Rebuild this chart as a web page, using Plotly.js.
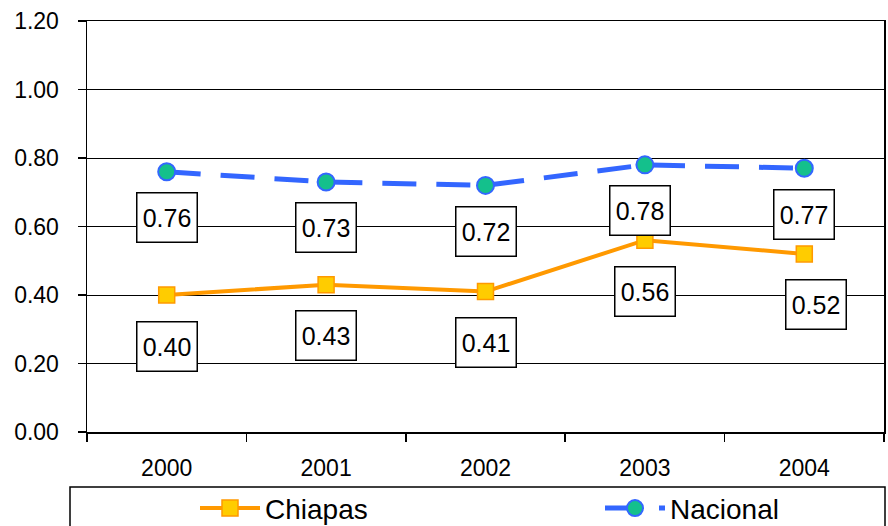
<!DOCTYPE html>
<html>
<head>
<meta charset="utf-8">
<script src="https://cdn.plot.ly/plotly-3.0.1.min.js"></script>
<style>html,body{margin:0;padding:0;background:#fff;}#chart{width:888px;height:526px;}</style>
</head>
<body>
<div id="chart"></div>
<script>
const years = ["2000", "2001", "2002", "2003", "2004"];
const chiapas = [0.40, 0.43, 0.41, 0.56, 0.52];
const nacional = [0.76, 0.73, 0.72, 0.78, 0.77];
const chiapasLabels = ["0.40", "0.43", "0.41", "0.56", "0.52"];
const nacionalLabels = ["0.76", "0.73", "0.72", "0.78", "0.77"];
const yTicks = [0, 0.2, 0.4, 0.6, 0.8, 1.0, 1.2];

const FONT = "Liberation Sans, Arial, sans-serif";

const traces = [
  {
    x: years, y: chiapas, name: "Chiapas", type: "scatter", mode: "lines+markers",
    line: {color: "#FF9900", width: 4},
    marker: {symbol: "square", size: 16, color: "#FFCC00", line: {color: "#FF9900", width: 1.5}},
    legend: "legend"
  },
  {
    x: years, y: nacional, name: "Nacional", type: "scatter", mode: "lines+markers",
    line: {color: "#3366FF", width: 5, dash: "34px,20px"},
    marker: {symbol: "circle", size: 17, color: "#14C08C", line: {color: "#3366FF", width: 2}},
    legend: "legend2"
  }
];

const annotations = [];
function addLabels(vals, labels, yshift, xshifts) {
  vals.forEach((v, i) => {
    annotations.push({
      x: i, y: v, xref: "x", yref: "y", text: labels[i], showarrow: false,
      yshift: yshift, xshift: xshifts[i],
      font: {family: FONT, size: 25, color: "#000"},
      bgcolor: "#FFFFFF", bordercolor: "#000000", borderwidth: 1.5, borderpad: 1,
      width: 57, height: 46
    });
  });
}
addLabels(nacional, nacionalLabels, -46, [0, 0, 0, -5, 0]);
addLabels(chiapas, chiapasLabels, -51, [0, 0, 0, 0, 12]);

const legendCommon = {
  orientation: "h", xanchor: "left", y: -0.125, yanchor: "top",
  borderwidth: 0, bgcolor: "rgba(0,0,0,0)",
  font: {family: FONT, size: 28, color: "#000"},
  itemwidth: 60
};

const layout = {
  width: 888, height: 526,
  paper_bgcolor: "#FFFFFF", plot_bgcolor: "#FFFFFF",
  margin: {l: 87, r: 4, t: 21, b: 94, autoexpand: false},
  font: {family: FONT, color: "#000"},
  showlegend: true,
  xaxis: {
    type: "category", range: [-0.5, 4.5],
    showgrid: false, showline: true, linecolor: "#000", linewidth: 1.5, mirror: true,
    ticks: "outside", tickson: "boundaries", ticklen: 8, tickcolor: "#000", tickwidth: 1.5,
    ticklabelstandoff: 15,
    tickfont: {family: FONT, size: 23, color: "#000"}
  },
  yaxis: {
    range: [0, 1.2], tickvals: yTicks, tickformat: ".2f",
    showgrid: true, gridcolor: "#000", gridwidth: 1,
    showline: true, linecolor: "#000", linewidth: 1.5, mirror: true,
    ticks: "outside", ticklen: 8, tickcolor: "#000", tickwidth: 1.5,
    ticklabelstandoff: 14, zeroline: false,
    tickfont: {family: FONT, size: 23, color: "#000"}
  },
  legend: Object.assign({}, legendCommon, {x: (195 - 87) / 797}),
  legend2: Object.assign({}, legendCommon, {x: (600 - 87) / 797}),
  shapes: [{
    type: "rect", xref: "paper", yref: "paper",
    x0: (70 - 87) / 797, x1: (885 - 87) / 797,
    y0: (432 - 487) / 411, y1: (432 - 540) / 411,
    line: {color: "#000", width: 1.5}, fillcolor: "rgba(0,0,0,0)", layer: "below"
  }],
  annotations: annotations
};

Plotly.newPlot("chart", traces, layout, {displayModeBar: false, staticPlot: true});
</script>
</body>
</html>
